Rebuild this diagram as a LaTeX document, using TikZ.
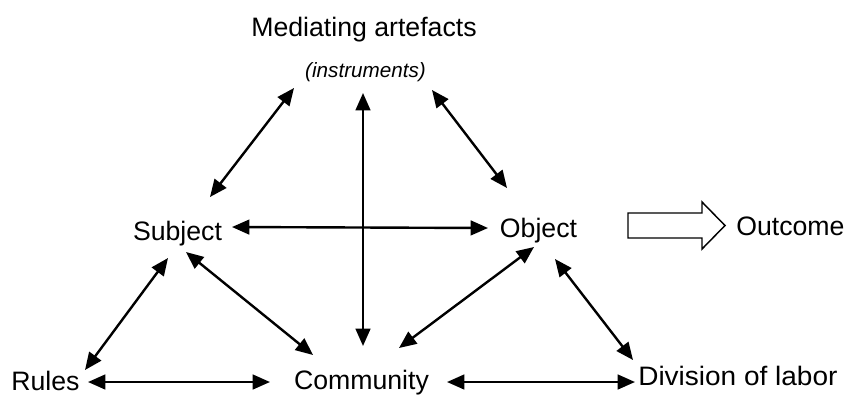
\documentclass[tikz,border=0pt]{standalone}
\usepackage{fontspec}
\setmainfont{Liberation Sans}
\usetikzlibrary{arrows.meta}
\begin{document}
\begin{tikzpicture}[x=0.75pt, y=-0.75pt,
    lbl/.style={inner sep=0pt, font=\fontsize{20}{24}\selectfont},
    link/.style={{Triangle[length=13pt,width=11pt]}-{Triangle[length=13pt,width=11pt]}, line width=1.8pt}]
    \useasboundingbox (0,0) rectangle (845,394);

    % Labels
    \node[lbl, anchor=base] (med) at (364,36) {Mediating artefacts};
    \node[lbl, anchor=base, font=\fontsize{15.5}{18}\selectfont\itshape] (inst) at (365.5,77) {(instruments)};
    \node[lbl, anchor=base] (subj) at (177.5,240) {Subject};
    \node[lbl, anchor=base] (obj) at (538.5,237) {Object};
    \node[lbl, anchor=base west] (out) at (736,235) {Outcome};
    \node[lbl, anchor=base west] (rules) at (11,390) {Rules};
    \node[lbl, anchor=base] (comm) at (361.5,389) {Community};
    \node[lbl, anchor=base west, xscale=1.05] (div) at (638,385) {Division of labor};

    % Links of the triangle
    \draw[link] ([shift={(32.5,-43)}]subj.base) -- ([shift={(-71.5,11)}]inst.base);
    \draw[link] ([shift={(-2.5,16)}]inst.base) -- ([shift={(1.5,-43)}]comm.base);
    \draw[link] ([shift={(66.5,13)}]inst.base) -- ([shift={(-31.5,-49)}]obj.base);
    \draw[link] ([shift={(54.5,-13)}]subj.base) -- ([shift={(-50.5,-9)}]obj.base);
    \draw[link] ([shift={(-9.5,18)}]subj.base) -- ([shift={(74,-20)}]rules.base west);
    \draw[link] ([shift={(8.5,12)}]subj.base) -- ([shift={(-48.5,-34)}]comm.base);
    \draw[link] ([shift={(-4.5,10)}]obj.base) -- ([shift={(37.5,-41)}]comm.base);
    \draw[link] ([shift={(16.5,22)}]obj.base) -- ([shift={(-5,-25)}]div.base west);
    \draw[link] ([shift={(77,-8)}]rules.base west) -- ([shift={(-91.5,-7)}]comm.base);
    \draw[link] ([shift={(85.5,-7)}]comm.base) -- ([shift={(-3,-3)}]div.base west);

    % Hollow arrow to the outcome
    \draw[line width=1.1pt, line join=miter] (628,213) -- (702,213) -- (702,202) -- (725,225.5)
        -- (702,249) -- (702,238) -- (628,238) -- cycle;
\end{tikzpicture}
\end{document}
